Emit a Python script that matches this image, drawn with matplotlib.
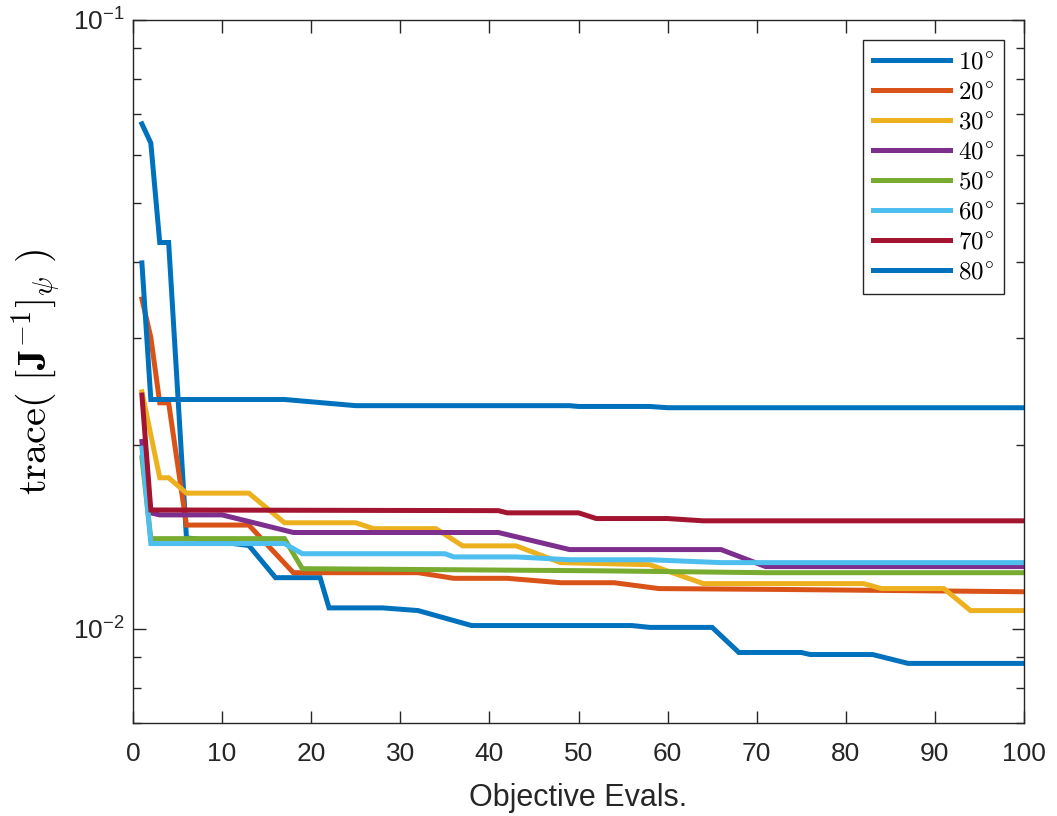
import matplotlib
matplotlib.use("Agg")
import matplotlib.pyplot as plt
from matplotlib.font_manager import FontProperties
from matplotlib.ticker import FixedLocator, NullFormatter

# ---------------- data ----------------
x_10 = [1, 2, 3, 4, 6, 13, 16, 21, 22, 28, 32, 38, 56, 58, 65, 68, 75, 76, 83, 87, 100]
y_10 = [0.0675, 0.0628, 0.0431, 0.0431, 0.0141, 0.0137, 0.01213, 0.01213, 0.01082,
        0.01082, 0.01071, 0.01012, 0.01012, 0.01005, 0.01005, 0.00914, 0.00914,
        0.00907, 0.00907, 0.00877, 0.00877]

x_20 = [1, 2, 3, 4, 6, 13, 18, 32, 36, 42, 48, 54, 59, 73, 100]
y_20 = [0.0348, 0.0301, 0.0235, 0.0235, 0.0148, 0.0148, 0.01236, 0.01236, 0.0121,
        0.0121, 0.0119, 0.0119, 0.01164, 0.0116, 0.0115]

x_30 = [1, 3, 4, 6, 13, 17, 25, 27, 34, 37, 43, 48, 58, 64, 82, 84, 91, 94, 100]
y_30 = [0.0245, 0.0177, 0.0177, 0.0167, 0.0167, 0.01493, 0.01493, 0.0146, 0.0146,
        0.01368, 0.01368, 0.01284, 0.01274, 0.01186, 0.01186, 0.01164, 0.01164,
        0.01071, 0.01071]

x_40 = [1, 2, 3, 10, 18, 41, 49, 66, 71, 100]
y_40 = [0.0203, 0.0155, 0.01538, 0.01538, 0.01439, 0.01439, 0.01349, 0.01349,
        0.01265, 0.01265]

x_50 = [1, 2, 17, 19, 52, 71, 100]
y_50 = [0.0191, 0.01406, 0.01406, 0.01255, 0.01245, 0.01236, 0.01236]

x_60 = [1, 2, 17, 19, 35, 36, 43, 49, 58, 66, 100]
y_60 = [0.0198, 0.0138, 0.0138, 0.01328, 0.01328, 0.01312, 0.01312, 0.01298,
        0.01298, 0.01284, 0.01284]

x_70 = [1, 2, 41, 42, 50, 52, 60, 64, 100]
y_70 = [0.0242, 0.01567, 0.01563, 0.0155, 0.0155, 0.01517, 0.01517, 0.01504, 0.01504]

x_80 = [1, 2, 17, 25, 49, 50, 58, 60, 100]
y_80 = [0.0399, 0.0238, 0.0238, 0.02325, 0.02325, 0.02318, 0.02318, 0.02307, 0.02307]

labels = [r'$10^{\!\circ}$', r'$20^{\!\circ}$', r'$30^{\!\circ}$', r'$40^{\!\circ}$',
          r'$50^{\!\circ}$', r'$60^{\!\circ}$', r'$70^{\!\circ}$', r'$80^{\!\circ}$']
colors = ['#0072BD', '#D95319', '#EDB120', '#7E2F8E',
          '#77AC30', '#4DBEEE', '#A2142F', '#0072BD']

xs = [x_10, x_20, x_30, x_40, x_50, x_60, x_70, x_80]
ys = [y_10, y_20, y_30, y_40, y_50, y_60, y_70, y_80]

y_major = [0.01, 0.1]
y_major_labels = [r'$\mathregular{10^{-2}}$', r'$\mathregular{10^{-1}}$']
y_minor = [0.007, 0.008, 0.009, 0.02, 0.03, 0.04, 0.05, 0.06, 0.07, 0.08, 0.09]

# ---------------- style ----------------
dark = '#262626'
plt.rcParams['font.family'] = ['Liberation Sans', 'DejaVu Sans']
plt.rcParams['mathtext.fontset'] = 'custom'
plt.rcParams['mathtext.rm'] = 'Liberation Sans'
plt.rcParams['mathtext.it'] = 'Liberation Sans:italic'
plt.rcParams['mathtext.bf'] = 'Liberation Sans:bold'
plt.rcParams['axes.unicode_minus'] = False

fig = plt.figure(figsize=(10.57, 8.16), dpi=100)
ax = fig.add_axes([133/1057, 1-723/816, 891/1057, 703/816])

for xx, yy, c, lab in zip(xs, ys, colors, labels):
    ax.plot(xx, yy, color=c, lw=3.6, label=lab, solid_joinstyle='miter')

ax.set_yscale('log')
ax.set_xlim(0, 100)
ax.set_ylim(0.007, 0.1)
ax.set_xticks(range(0, 101, 10))
ax.yaxis.set_major_locator(FixedLocator(y_major))
ax.set_yticklabels(y_major_labels)
ax.yaxis.set_minor_locator(FixedLocator(y_minor))
ax.yaxis.set_minor_formatter(NullFormatter())

ax.tick_params(which='both', direction='in', top=True, right=True,
               color=dark, labelcolor=dark, width=1.0)
ax.tick_params(which='major', length=9)
ax.tick_params(which='minor', length=6)
ax.tick_params(axis='x', labelsize=19, pad=14)
ax.tick_params(axis='y', labelsize=19, pad=6)
for s in ax.spines.values():
    s.set_color(dark)
    s.set_linewidth(1.0)

ax.set_xlabel('Objective Evals.', fontsize=22, color=dark, labelpad=12)
ylab = ax.set_ylabel(r'$\mathrm{trace}(\ [\mathbf{J}^{-1}]_{\psi}\ )$', fontsize=29,
                     color='black')
ylab.set_math_fontfamily('cm')
ax.yaxis.set_label_coords(-0.079, 0.5)

leg = ax.legend(loc='upper right', prop=FontProperties(size=18, math_fontfamily='cm'),
                fancybox=False, edgecolor=dark, framealpha=1,
                handlelength=3.1, handletextpad=0.3, labelspacing=0.24,
                borderaxespad=0.8, borderpad=0.4)
leg.get_frame().set_linewidth(1.0)

fig.savefig('out.png', dpi=100)
